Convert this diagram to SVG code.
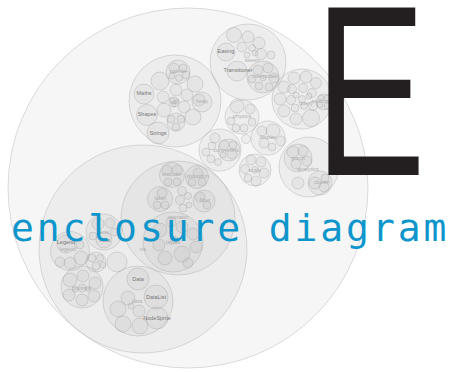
<svg xmlns="http://www.w3.org/2000/svg" width="449" height="373" viewBox="0 0 449 373">
<style>
circle{fill:#8c8c8c;fill-opacity:.075;stroke:#a0a0a0;stroke-opacity:.45;stroke-width:.8}
text{font-family:"Liberation Sans",Arial,sans-serif;font-size:5.5px;text-anchor:middle;dominant-baseline:middle}
.k{fill:#777}
.p{fill:#b0b0b0}
.title{font-family:"DejaVu Sans Mono","Liberation Mono",monospace;font-size:38px;letter-spacing:2.9px;fill:#0e96cc;text-anchor:start;dominant-baseline:auto}
.big{font-family:"Liberation Sans",Arial,sans-serif;font-size:243px;fill:#231f20;text-anchor:start;dominant-baseline:auto}
</style>
<rect width="449" height="373" fill="#fff"/>
<g id="flare">
<circle cx="188" cy="188" r="180"/>
</g>
<g id="util">
<circle cx="175" cy="101" r="46"/>
<circle cx="178" cy="72" r="12"/>
<circle cx="174" cy="68" r="5"/><circle cx="183" cy="68" r="4"/><circle cx="186" cy="75" r="4"/><circle cx="179" cy="78" r="3.5"/><circle cx="172" cy="76" r="3"/>
<circle cx="160" cy="81" r="9"/>
<circle cx="195" cy="84" r="8"/>
<circle cx="144" cy="94" r="10"/>
<circle cx="147" cy="115" r="10.5"/>
<circle cx="158" cy="133" r="11"/>
<circle cx="202" cy="102" r="10"/><circle cx="199" cy="100" r="6"/>
<circle cx="163" cy="97" r="6"/>
<circle cx="164" cy="110" r="7"/>
<circle cx="193" cy="117" r="8"/>
<circle cx="176" cy="90" r="6"/>
<circle cx="187" cy="95" r="6"/>
<circle cx="184" cy="107" r="6"/>
<circle cx="174" cy="102" r="5"/><circle cx="172" cy="100" r="2.5"/><circle cx="177" cy="101" r="2"/><circle cx="174" cy="105" r="2"/>
<circle cx="176" cy="122" r="9"/><circle cx="171" cy="119" r="4"/><circle cx="181" cy="119" r="4"/><circle cx="176" cy="127" r="4"/>
<text class="p" x="178" y="72">palette</text>
<text class="k" x="144" y="94">Maths</text>
<text class="k" x="147" y="115">Shapes</text>
<text class="k" x="158" y="134">Strings</text>
<text class="p" x="174" y="103">util</text>
<text class="p" x="202" y="102">heap</text>
</g>
<g id="animate">
<circle cx="248" cy="62" r="38"/>
<circle cx="234" cy="35" r="7.5"/><circle cx="248" cy="37" r="6"/><circle cx="259" cy="43" r="6"/><circle cx="242" cy="47" r="5"/><circle cx="252" cy="48" r="3.5"/><circle cx="261" cy="54" r="5.5"/><circle cx="255" cy="53" r="3"/><circle cx="247" cy="55" r="3"/><circle cx="271" cy="55" r="4"/>
<circle cx="226" cy="52" r="9"/>
<circle cx="237" cy="71" r="10"/>
<circle cx="263" cy="77" r="16"/>
<circle cx="258" cy="70" r="5"/><circle cx="268" cy="68" r="5"/><circle cx="274" cy="78" r="5"/><circle cx="269" cy="87" r="4"/><circle cx="259" cy="86" r="4"/><circle cx="252" cy="79" r="4"/><circle cx="263" cy="78" r="3"/>
<text class="k" x="226" y="52">Easing</text>
<text class="p" x="252" y="61">tween</text>
<text class="k" x="238" y="71">Transitioner</text>
<text class="p" x="265" y="77">interpolate</text>
</g>
<g id="query">
<circle cx="302" cy="99" r="30"/>
<circle cx="302" cy="99" r="3.5"/><circle cx="309" cy="96" r="3"/><circle cx="296" cy="95" r="3"/><circle cx="304" cy="106" r="3.5"/>
<circle cx="291" cy="100" r="4.5"/><circle cx="295" cy="108" r="4"/><circle cx="313" cy="106" r="4.5"/><circle cx="312" cy="93" r="4.5"/><circle cx="303" cy="88" r="4.5"/><circle cx="292" cy="89" r="4.5"/>
<circle cx="280" cy="99" r="6"/><circle cx="284" cy="87" r="6"/><circle cx="294" cy="78" r="6"/><circle cx="306" cy="77" r="6"/><circle cx="316" cy="83" r="5.5"/><circle cx="284" cy="111" r="6"/><circle cx="296" cy="119" r="6"/><circle cx="311" cy="118" r="8.5"/>
<circle cx="324" cy="102" r="8"/><circle cx="321" cy="98" r="3"/><circle cx="327" cy="98" r="3"/><circle cx="320" cy="105" r="3"/><circle cx="327" cy="106" r="3"/>
<text class="p" x="306" y="104">query</text>
<text class="p" x="322" y="102">methods</text>
</g>
<g id="physics">
<circle cx="242" cy="117" r="17"/>
<circle cx="237" cy="106" r="7"/><circle cx="250" cy="109" r="5"/><circle cx="231" cy="121" r="4"/><circle cx="236" cy="128" r="4"/><circle cx="244" cy="128" r="4"/><circle cx="252" cy="122" r="4"/>
<text class="p" x="242" y="117">physics</text>
</g>
<g id="display">
<circle cx="268" cy="138" r="17"/>
<circle cx="273" cy="131" r="7"/><circle cx="281" cy="141" r="5"/><circle cx="262" cy="131" r="5"/><circle cx="264" cy="143" r="5"/><circle cx="272" cy="147" r="4"/>
<text class="p" x="268" y="138">display</text>
</g>
<g id="flex">
<circle cx="246" cy="139" r="4.5"/>
</g>
<g id="data">
<circle cx="220" cy="150" r="21"/>
<circle cx="229" cy="150" r="11"/><circle cx="224" cy="145" r="5"/><circle cx="233" cy="145" r="4"/><circle cx="232" cy="154" r="5"/><circle cx="223" cy="155" r="3"/>
<circle cx="206" cy="152" r="4"/><circle cx="212" cy="146" r="4"/><circle cx="211" cy="159" r="4"/><circle cx="218" cy="162" r="3.5"/><circle cx="215" cy="138" r="5"/>
<text class="p" x="226" y="151">converters</text>
</g>
<g id="scale">
<circle cx="255" cy="170" r="16"/>
<circle cx="251" cy="160" r="5"/><circle cx="261" cy="162" r="5"/><circle cx="245" cy="169" r="4.5"/><circle cx="248" cy="178" r="4"/><circle cx="256" cy="181" r="5"/><circle cx="264" cy="173" r="5"/><circle cx="255" cy="170" r="3.5"/>
<text class="p" x="255" y="171">scale</text>
</g>
<g id="analytics">
<circle cx="309" cy="167" r="30"/>
<circle cx="298" cy="158" r="14"/><circle cx="293" cy="152" r="6"/><circle cx="303" cy="151" r="5"/><circle cx="307" cy="161" r="5"/><circle cx="296" cy="164" r="5"/>
<circle cx="320" cy="183" r="12"/><circle cx="315" cy="183" r="6"/><circle cx="324" cy="187" r="5"/><circle cx="325" cy="178" r="4"/>
<circle cx="298" cy="183" r="6"/>
<text class="p" x="298" y="159">graph</text>
<text class="p" x="308" y="170">analytics</text>
<text class="p" x="322" y="183">cluster</text>
</g>
<g id="vis">
<circle cx="143" cy="249" r="104"/>
<g id="operator">
<circle cx="178" cy="218" r="57"/>
<circle cx="172" cy="175" r="12.5"/><circle cx="167" cy="170" r="5"/><circle cx="177" cy="170" r="5"/><circle cx="168" cy="182" r="4"/><circle cx="177" cy="182" r="4"/>
<circle cx="197" cy="177" r="11.5"/><circle cx="198" cy="173" r="5"/><circle cx="192" cy="182" r="4"/><circle cx="202" cy="182" r="4"/>
<circle cx="160" cy="199" r="12.5"/><circle cx="162" cy="193" r="5"/><circle cx="157" cy="205" r="4"/><circle cx="165" cy="205" r="4"/>
<circle cx="204" cy="201" r="11"/><circle cx="200" cy="197" r="5"/><circle cx="207" cy="205" r="4"/>
<circle cx="182" cy="191" r="4.5"/><circle cx="180" cy="200" r="4.5"/><circle cx="188" cy="196" r="3.5"/><circle cx="183" cy="208" r="4"/><circle cx="189" cy="205" r="3"/>
<circle cx="173" cy="242" r="30"/>
<circle cx="160" cy="230" r="7"/><circle cx="171" cy="222" r="5"/><circle cx="182" cy="227" r="6"/><circle cx="193" cy="234" r="6"/><circle cx="196" cy="247" r="6"/><circle cx="159" cy="245" r="6"/><circle cx="165" cy="258" r="7"/><circle cx="182" cy="254" r="8"/><circle cx="174" cy="240" r="4"/><circle cx="188" cy="263" r="5"/>
<text class="p" x="172" y="175">encoder</text>
<text class="p" x="198" y="177">distortion</text>
<text class="p" x="160" y="199">label</text>
<text class="p" x="205" y="201">filter</text>
<text class="p" x="178" y="218">operator</text>
<text class="p" x="173" y="243">layout</text>
</g>
<g id="legend">
<circle cx="70" cy="251" r="19.5"/>
<circle cx="66" cy="244" r="9"/><circle cx="60" cy="262" r="5"/><circle cx="70" cy="263" r="6"/><circle cx="81" cy="258" r="7"/><circle cx="80" cy="245" r="4"/>
<text class="k" x="66" y="243">Legend</text>
<text class="p" x="68" y="250">legend</text>
</g>
<g id="axis">
<circle cx="104" cy="232" r="18"/>
<circle cx="104" cy="240" r="8"/><circle cx="98" cy="224" r="6"/><circle cx="110" cy="223" r="5"/><circle cx="114" cy="232" r="4"/><circle cx="93" cy="236" r="4"/>
<text class="p" x="104" y="233">axis</text>
<text class="k" x="105" y="241">Axis</text>
</g>
<g id="events">
<circle cx="96" cy="262" r="10"/>
<circle cx="92" cy="258" r="4"/><circle cx="100" cy="258" r="3.5"/><circle cx="96" cy="266" r="4"/><circle cx="103" cy="265" r="3"/>
</g>
<g id="vis-leaf"><circle cx="117" cy="262" r="10"/></g>
<g id="controls">
<circle cx="82" cy="287" r="21"/>
<circle cx="70" cy="280" r="7"/><circle cx="83" cy="276" r="6"/><circle cx="95" cy="283" r="6"/><circle cx="94" cy="296" r="6"/><circle cx="82" cy="300" r="6"/><circle cx="69" cy="295" r="6"/><circle cx="82" cy="288" r="4"/><circle cx="75" cy="289" r="3"/><circle cx="88" cy="289" r="2.5"/>
<text class="p" x="82" y="289">controls</text>
</g>
<g id="vis-data">
<circle cx="138" cy="301" r="35"/>
<circle cx="138" cy="279" r="11"/>
<circle cx="156" cy="297" r="12"/>
<circle cx="128" cy="298" r="7"/>
<circle cx="118" cy="309" r="8"/>
<circle cx="123" cy="324" r="8"/>
<circle cx="140" cy="326" r="8"/>
<circle cx="157" cy="318" r="11"/>
<circle cx="139" cy="311" r="6"/>
<circle cx="131" cy="306" r="3"/>
<text class="k" x="138" y="280">Data</text>
<text class="k" x="156" y="298">DataList</text>
<text class="p" x="137" y="302">data</text>
<text class="k" x="157" y="319">NodeSprite</text>
</g>
<text class="p" x="143" y="250">vis</text>
</g>
<text class="big" transform="translate(328,175) scale(0.685,1)" x="-19.2" y="0">E</text>
<text class="title" x="11" y="241">enclosure diagram</text>
</svg>
